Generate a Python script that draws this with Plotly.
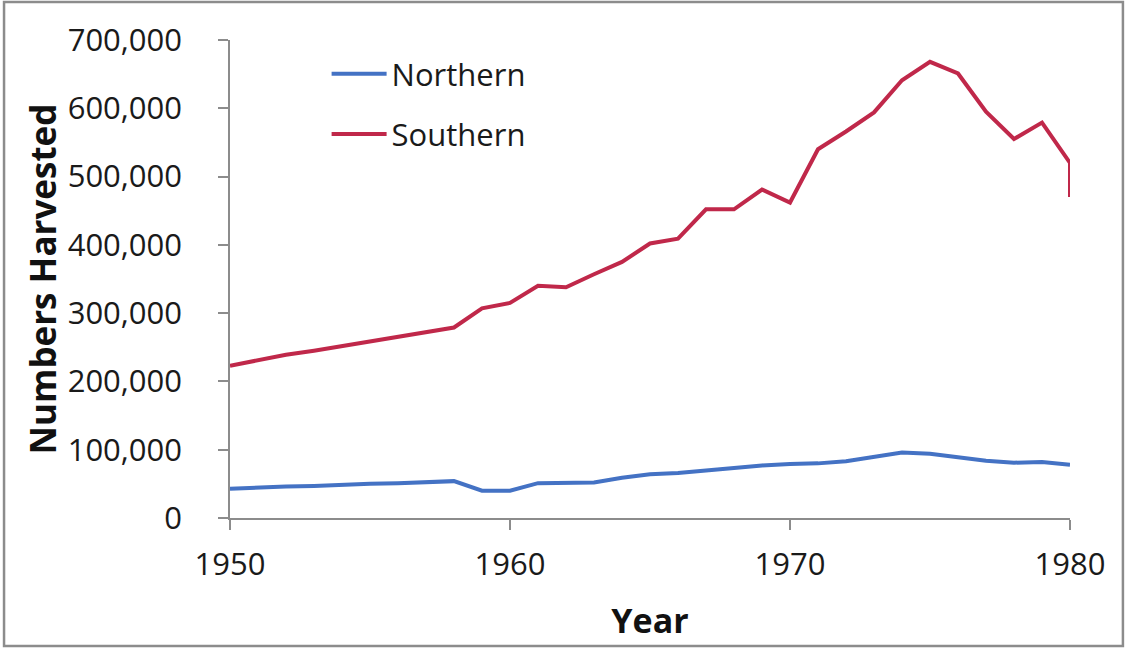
import plotly.graph_objects as go

# Annual harvest, 1950-1980 (the southern series ends with a second 1980 entry)
years_north = list(range(1950, 1981))
northern = [43000, 45000, 46000, 47000, 49000, 50000, 51000, 53000, 54000, 40000,
            40000, 51000, 51000, 52000, 59000, 64000, 66000, 70000, 74000, 77000,
            79000, 80000, 83000, 89000, 96000, 94000, 89000, 84000, 81000, 82000,
            78000]

years_south = list(range(1950, 1981)) + [1980]
southern = [223000, 231000, 239000, 245000, 252000, 259000, 265000, 272000, 279000, 307000,
            315000, 340000, 338000, 357000, 375000, 402000, 409000, 452000, 452000, 481000,
            462000, 540000, 566000, 594000, 641000, 668000, 651000, 595000, 555000, 579000,
            520000, 470000]

x_ticks = [1950, 1960, 1970, 1980]
y_ticks = [0, 100000, 200000, 300000, 400000, 500000, 600000, 700000]
y_labels = ["0" if v == 0 else f"{v:,}" for v in y_ticks]

font_family = "Open Sans, Noto Sans, sans-serif"

fig = go.Figure()
fig.add_trace(go.Scatter(x=years_north, y=northern, mode="lines", name="Northern",
                         legendgroup="north",
                         line=dict(color="#4472C4", width=4)))
fig.add_trace(go.Scatter(x=years_south, y=southern, mode="lines", name="Southern",
                         legendgroup="south",
                         line=dict(color="#C0284A", width=4)))

axis_common = dict(showgrid=False, zeroline=False, showline=True,
                   linecolor="#8C8C8C", linewidth=1.5, ticks="outside",
                   tickcolor="#8C8C8C", ticklen=10, tickwidth=1.5,
                   tickfont=dict(family=font_family, size=31, color="#1a1a1a"))

fig.update_xaxes(range=[1950, 1980], tickvals=x_ticks, ticktext=[str(v) for v in x_ticks],
                 ticklabelstandoff=8,
                 title=dict(text="<b>Year</b>", standoff=26,
                            font=dict(family=font_family, size=34, color="#111")),
                 **axis_common)
fig.update_yaxes(range=[0, 700000], tickvals=y_ticks, ticktext=y_labels,
                 ticklabelstandoff=30,
                 title=dict(text="<b>Numbers Harvested</b>", standoff=0,
                            font=dict(family=font_family, size=35, color="#111")),
                 **axis_common)

fig.update_layout(
    width=1127, height=648,
    margin=dict(l=230, r=57, t=40, b=130),
    paper_bgcolor="white", plot_bgcolor="white",
    showlegend=True,
    legend=dict(x=0.115, y=0.985, xanchor="left", yanchor="top",
                traceorder="grouped", bgcolor="rgba(0,0,0,0)",
                tracegroupgap=17, itemwidth=55,
                font=dict(family=font_family, size=31, color="#1a1a1a")),
    shapes=[dict(type="rect", xref="paper", yref="paper",
                 x0=-0.269, x1=1.063, y0=-0.2678, y1=1.0795,
                 line=dict(color="#8C8C8C", width=2.5), layer="below")],
)

fig.write_html("out.html")
